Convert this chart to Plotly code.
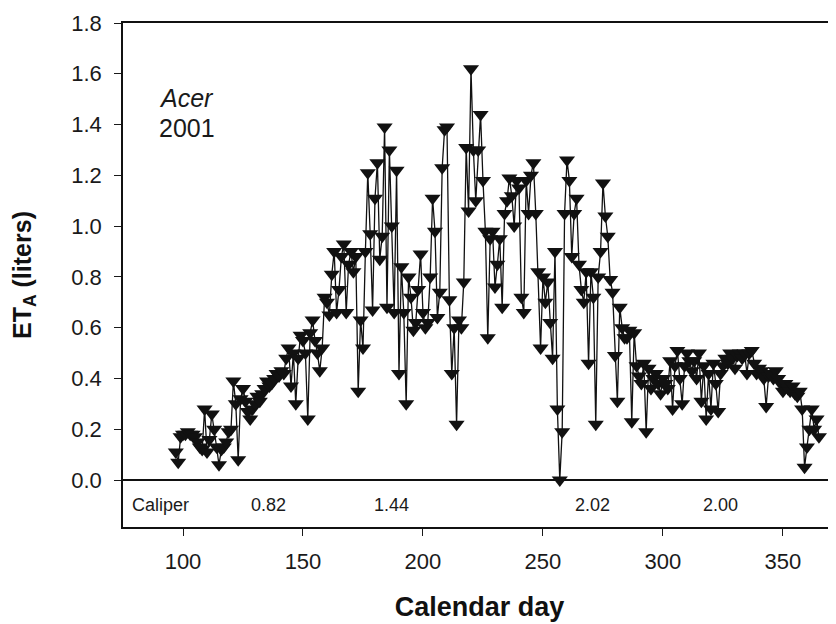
import plotly.graph_objects as go

# Calendar days and daily ET_A values (liters)
days = list(range(97, 366))
eta = [
    0.11, 0.07, 0.17,                                                   # 97-99
    0.18, 0.18, 0.19, 0.18, 0.18, 0.17, 0.15, 0.13, 0.12, 0.28,        # 100-109
    0.11, 0.16, 0.26, 0.20, 0.13, 0.06, 0.12, 0.13, 0.15, 0.19,        # 110-119
    0.20, 0.39, 0.30, 0.08, 0.32, 0.36, 0.31, 0.27, 0.24, 0.28,        # 120-129
    0.30, 0.33, 0.31, 0.34, 0.36, 0.39, 0.37, 0.38, 0.40, 0.42,        # 130-139
    0.41, 0.43, 0.42, 0.48, 0.52, 0.37, 0.50, 0.30, 0.48, 0.57,        # 140-149
    0.55, 0.50, 0.24, 0.58, 0.63, 0.55, 0.50, 0.43, 0.52, 0.72,        # 150-159
    0.70, 0.65, 0.81, 0.90, 0.66, 0.75, 0.88, 0.93, 0.66, 0.85,        # 160-169
    0.90, 0.82, 0.88, 0.35, 0.63, 0.52, 0.90, 1.21, 0.97, 0.67,        # 170-179
    1.11, 1.25, 0.87, 0.96, 1.39, 0.68, 1.30, 1.00, 0.66, 1.22,        # 180-189
    0.42, 0.84, 0.66, 0.30, 0.80, 0.72, 0.59, 0.62, 0.75, 0.89,        # 190-199
    0.66, 0.60, 0.62, 0.80, 1.11, 0.98, 0.64, 0.74, 1.23, 1.38,        # 200-209
    1.39, 0.71, 0.42, 0.60, 0.22, 0.63, 0.60, 0.78, 1.31, 1.06,        # 210-219
    1.62, 1.30, 1.10, 1.30, 1.44, 1.18, 0.98, 0.56, 0.95, 0.98,        # 220-229
    0.76, 0.85, 0.95, 0.68, 1.05, 1.10, 1.19, 1.12, 1.00, 1.18,        # 230-239
    1.15, 0.72, 0.66, 1.18, 1.05, 1.20, 1.25, 1.05, 0.82, 0.52,        # 240-249
    0.80, 0.70, 0.78, 0.62, 0.48, 0.90, 0.28, 0.00, 0.19, 1.05,        # 250-259
    1.26, 1.18, 0.88, 1.05, 1.11, 0.85, 0.75, 0.70, 0.82, 0.46,        # 260-269
    0.82, 0.72, 0.22, 0.80, 0.90, 1.17, 1.04, 0.96, 0.79, 0.74,        # 270-279
    0.49, 0.31, 0.68, 0.60, 0.56, 0.56, 0.59, 0.23, 0.58, 0.45,        # 280-289
    0.41, 0.38, 0.46, 0.19, 0.44, 0.36, 0.40, 0.42, 0.38, 0.34,        # 290-299
    0.40, 0.38, 0.36, 0.47, 0.28, 0.45, 0.51, 0.40, 0.30, 0.45,        # 300-309
    0.50, 0.47, 0.43, 0.47, 0.40, 0.50, 0.31, 0.45, 0.24, 0.42,        # 310-319
    0.28, 0.46, 0.38, 0.27, 0.42, 0.45, 0.48, 0.46, 0.50, 0.48,        # 320-329
    0.44, 0.49, 0.50, 0.48, 0.50, 0.42, 0.50, 0.51, 0.46, 0.42,        # 330-339
    0.44, 0.43, 0.40, 0.29, 0.41, 0.42, 0.40, 0.43, 0.40, 0.38,        # 340-349
    0.35, 0.38, 0.36, 0.35, 0.37, 0.34, 0.33, 0.35, 0.28, 0.05,        # 350-359
    0.13, 0.20, 0.28, 0.20, 0.24, 0.17,                                # 360-365
]

# Caliper annotations along the bottom band
caliper_labels = ["Caliper", "0.82", "1.44", "2.02", "2.00"]
caliper_days = [90.5, 135.5, 187.0, 270.5, 323.8]

x_ticks = [100, 150, 200, 250, 300, 350]
y_ticks = [0.0, 0.2, 0.4, 0.6, 0.8, 1.0, 1.2, 1.4, 1.6, 1.8]

FONT = "Liberation Sans, Arial, Helvetica, sans-serif"
INK = "#1a1a1a"

# plot-area box in figure pixels (page adds an 8 px body margin)
L, T, R, B = 115, 15, 828, 519
W, H = 836, 624

fig = go.Figure()
fig.add_trace(go.Scatter(
    x=days, y=eta, mode="lines+markers",
    line=dict(color="#111111", width=1.3),
    marker=dict(symbol="triangle-down", size=14, color="#111111",
                line=dict(width=0)),
    showlegend=False,
))

for lab, d in zip(caliper_labels, caliper_days):
    fig.add_annotation(x=d, y=-0.098, text=lab, showarrow=False,
                       font=dict(family=FONT, size=18, color=INK),
                       xanchor="center", yanchor="middle")

def px_to_paper(px, py):
    return (px - L) / (R - L), (B - py) / (B - T)

ax, ay = px_to_paper(149, 90)
fig.add_annotation(x=ax, y=ay, xref="paper", yref="paper", text="<i>Acer</i>",
                   showarrow=False, xanchor="left", yanchor="middle",
                   font=dict(family=FONT, size=25, color=INK))
ax, ay = px_to_paper(149, 120)
fig.add_annotation(x=ax, y=ay, xref="paper", yref="paper", text="2001",
                   showarrow=False, xanchor="left", yanchor="middle",
                   font=dict(family=FONT, size=25, color=INK))

fig.update_layout(
    width=W, height=H,
    margin=dict(l=L, r=W - R, t=T, b=H - B, autoexpand=False),
    paper_bgcolor="white", plot_bgcolor="white",
    font=dict(family=FONT, color=INK),
    xaxis=dict(
        range=[75, 372.1], tickvals=x_ticks, ticks="outside", ticklen=7,
        tickwidth=1.2, tickcolor=INK, automargin=False,
        ticklabelstandoff=7,
        showline=True, linecolor="#111111", linewidth=1.5, mirror=True,
        showgrid=False, zeroline=False,
        tickfont=dict(size=22, family=FONT, color=INK),
        title=dict(text="<b>Calendar day</b>", standoff=24,
                   font=dict(size=27, family=FONT, color="#111111")),
    ),
    yaxis=dict(
        range=[-0.185, 1.8], tickvals=y_ticks, tickformat=".1f",
        ticks="outside", ticklen=7, tickwidth=1.2, tickcolor=INK,
        automargin=False, ticklabelstandoff=8,
        showline=True, linecolor="#111111", linewidth=1.5, mirror=False,
        showgrid=False, zeroline=True, zerolinecolor="#111111", zerolinewidth=1.5,
        tickfont=dict(size=22, family=FONT, color=INK),
        title=dict(text="<b>ET<sub>A</sub> (liters)</b>", standoff=34,
                   font=dict(size=25, family=FONT, color="#111111")),
    ),
)

fig.write_html("out.html")
